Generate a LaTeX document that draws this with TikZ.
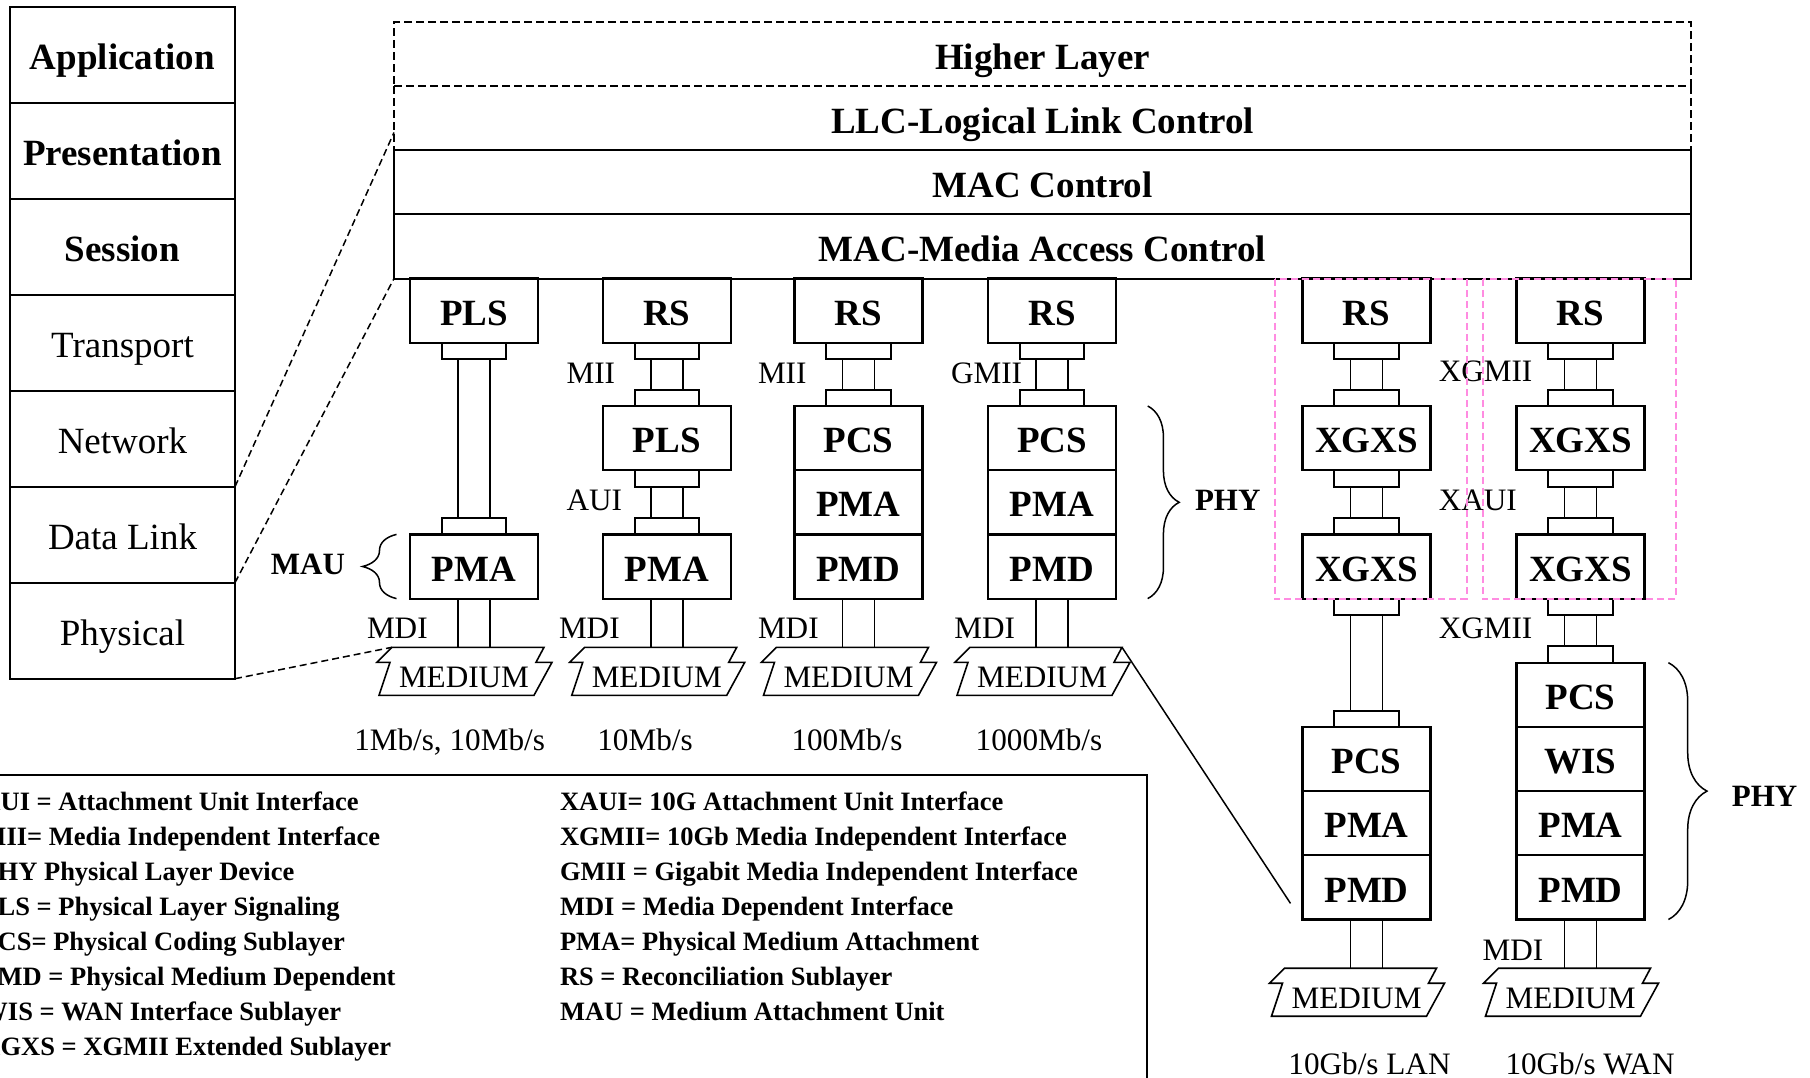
\documentclass[tikz,border=0pt]{standalone}
\usepackage{fontspec}
\setmainfont{Liberation Serif}
\usetikzlibrary{positioning,calc,decorations.pathreplacing}
\definecolor{xgpink}{RGB}{255,140,225}

\begin{document}
\begin{tikzpicture}[
  x=1pt,y=-1pt,
  every node/.style={inner sep=0pt,outer sep=0pt},
  osi/.style={draw,line width=2pt,minimum width=225pt,minimum height=96pt,text height=28.8pt,text depth=0pt,font=\fontsize{37}{40}\selectfont},
  osi top/.style={osi,font=\fontsize{37}{40}\selectfont\bfseries},
  band/.style={draw,line width=2pt,minimum width=1297pt,minimum height=64pt,text height=29.2pt,text depth=0pt,font=\fontsize{37}{40}\selectfont\bfseries},
  open band/.style={band,dash pattern=on 8pt off 4pt},
  sub/.style={draw,line width=2.2pt,minimum width=128pt,minimum height=64.2pt,text height=29.2pt,text depth=0pt,font=\fontsize{37}{40}\selectfont\bfseries},
  stub/.style={draw,line width=2pt,minimum width=64.5pt,minimum height=16.3pt},
  wire/.style={line width=1.5pt},
  medium/.style={text height=15.4pt,text depth=0pt,font=\fontsize{31.2}{34}\selectfont},
  medium line/.style={line width=1.6pt,line join=miter},
  tag/.style={anchor=west,text height=20.4pt,text depth=0pt,font=\fontsize{31.2}{34}\selectfont},
  rate/.style={text height=20.4pt,text depth=0pt,font=\fontsize{31.2}{34}\selectfont},
  side tag/.style={text height=20.4pt,text depth=0pt,font=\fontsize{31}{34}\selectfont\bfseries},
  osi link/.style={line width=1.5pt,dash pattern=on 7pt off 4pt},
  zoom link/.style={line width=1.5pt},
  group/.style={xgpink,line width=2pt,dash pattern=on 7pt off 4pt},
  brace/.style={decorate,line width=1.5pt},
  legend/.style={anchor=base west,font=\fontsize{26.5}{30}\selectfont\bfseries}
]
\useasboundingbox (0,0) rectangle (1810,1078);

% OSI reference model
\node[osi top] (app) at (122.5,54.7) {Application};
\node[osi top,below=0pt of app] (pres) {Presentation};
\node[osi top,below=0pt of pres] (sess) {Session};
\node[osi,below=0pt of sess] (trans) {Transport};
\node[osi,below=0pt of trans] (net) {Network};
\node[osi,below=0pt of net] (dl) {Data Link};
\node[osi,below=0pt of dl] (phys) {Physical};

% upper layers
\node[open band] (higher) at (1042.5,54.5) {Higher Layer};
\node[band,draw=none,below=0pt of higher] (llc) {LLC-Logical Link Control};
\draw[line width=2pt,dash pattern=on 8pt off 4pt] (llc.north west) -- (llc.south west) (llc.north east) -- (llc.south east);
\node[band,below=0pt of llc] (macctl) {MAC Control};
\node[band,below=0pt of macctl] (mac) {MAC-Media Access Control};

% sublayer columns
\node[sub] (pls1) at (474,310.6) {PLS};
\node[sub,below=191.7pt of pls1] (pma1) {PMA};

\node[sub] (rs2) at (666.75,310.6) {RS};
\node[sub,below=63.3pt of rs2] (pls2) {PLS};
\node[sub,below=64.2pt of pls2] (pma2) {PMA};

\node[sub] (rs3) at (858.5,310.6) {RS};
\node[sub,below=63.3pt of rs3] (pcs3) {PCS};
\node[sub,below=0pt of pcs3] (pma3) {PMA};
\node[sub,below=0pt of pma3] (pmd3) {PMD};

\node[sub] (rs4) at (1052,310.6) {RS};
\node[sub,below=63.3pt of rs4] (pcs4) {PCS};
\node[sub,below=0pt of pcs4] (pma4) {PMA};
\node[sub,below=0pt of pma4] (pmd4) {PMD};

\node[sub] (rs5) at (1366.5,310.6) {RS};
\node[sub,below=63.3pt of rs5] (xa5) {XGXS};
\node[sub,below=64.2pt of xa5] (xb5) {XGXS};
\node[sub,below=128.3pt of xb5] (pcs5) {PCS};
\node[sub,below=0pt of pcs5] (pma5) {PMA};
\node[sub,below=0pt of pma5] (pmd5) {PMD};

\node[sub] (rs6) at (1580.5,310.6) {RS};
\node[sub,below=63.3pt of rs6] (xa6) {XGXS};
\node[sub,below=64.2pt of xa6] (xb6) {XGXS};
\node[sub,below=64.1pt of xb6] (pcs6) {PCS};
\node[sub,below=0pt of pcs6] (wis6) {WIS};
\node[sub,below=0pt of wis6] (pma6) {PMA};
\node[sub,below=0pt of pma6] (pmd6) {PMD};

% interface links
\foreach \u/\l in {pls1/pma1,rs2/pls2,pls2/pma2,rs3/pcs3,rs4/pcs4,rs5/xa5,xa5/xb5,xb5/pcs5,rs6/xa6,xa6/xb6,xb6/pcs6}{
  \node[stub,below=0pt of \u] (\u-s) {};
  \node[stub,above=0pt of \l] (\l-t) {};
  \draw[wire] ([xshift=-16pt]\u-s.south) -- ([xshift=-16pt]\l-t.north)
              ([xshift=16pt]\u-s.south) -- ([xshift=16pt]\l-t.north);
}

% media
\node[medium,below=73.5pt of pma1,xshift=-10pt] (med1) {MEDIUM};
\node[medium,below=73.5pt of pma2,xshift=-10pt] (med2) {MEDIUM};
\node[medium,below=73.5pt of pmd3,xshift=-10pt] (med3) {MEDIUM};
\node[medium,below=73.5pt of pmd4,xshift=-10pt] (med4) {MEDIUM};
\node[medium,below=73.5pt of pmd5,xshift=-10pt] (med5) {MEDIUM};
\node[medium,below=73.5pt of pmd6,xshift=-10pt] (med6) {MEDIUM};
\foreach \m/\b in {med1/pma1,med2/pma2,med3/pmd3,med4/pmd4,med5/pmd5,med6/pmd6}{
  \draw[medium line] ([shift={(-72,-32.5)}]\m.center) coordinate (\m-tl)
    -- ([shift={(80,-32.5)}]\m.center) coordinate (\m-tr)
    -- ([shift={(72,-17.5)}]\m.center) -- ([shift={(88,-17.5)}]\m.center)
    -- ([shift={(70,15.5)}]\m.center) -- ([shift={(-85,15.5)}]\m.center)
    -- ([shift={(-74,-17.5)}]\m.center) -- ([shift={(-87,-17.5)}]\m.center) -- cycle;
  \draw[wire] ([xshift=-16pt]\b.south) -- ($(\b.south |- \m-tl)+(-16,0)$)
              ([xshift=16pt]\b.south) -- ($(\b.south |- \m-tl)+(16,0)$);
}

% interface names
\node[tag] (mii2) at (566.6,373) {MII};
\node[tag] (mii3) at (758,373) {MII};
\node[tag] (gmii4) at (951,373) {GMII};
\node[tag] (aui2) at (566.6,500) {AUI};
\node[tag] (mdi1) at (367,628) {MDI};
\node[tag] (mdi2) at (559,628) {MDI};
\node[tag] (mdi3) at (758,628) {MDI};
\node[tag] (mdi4) at (954.4,628) {MDI};
\node[tag] (mdi6) at (1482.7,950) {MDI};
\node[tag] (xgmii1) at (1438.8,371.7) {XGMII};
\node[tag] (xaui) at (1438.8,500) {XAUI};
\node[tag] (xgmii2) at (1438.8,628.3) {XGMII};

% data rates
\node[rate] (rate1) at (449.6,740) {1Mb/s, 10Mb/s};
\node[rate] (rate2) at (645,740) {10Mb/s};
\node[rate] (rate3) at (847,740) {100Mb/s};
\node[rate] (rate4) at (1039,740) {1000Mb/s};
\node[rate] (rate5) at (1369.5,1064) {10Gb/s LAN};
\node[rate] (rate6) at (1590,1064) {10Gb/s WAN};

% braces
\draw[brace,decoration={brace,amplitude=34pt}] ([xshift=-13.5pt]pma1.south west) -- ([xshift=-13.5pt]pma1.north west);
\node[side tag,anchor=east] (mau) at (345,564.7) {MAU};
\draw[brace,decoration={brace,amplitude=31.5pt}] ([xshift=31.7pt]pcs4.north east) -- ([xshift=31.7pt]pmd4.south east);
\node[side tag,anchor=west] (phy1) at (1195,500) {PHY};
\draw[brace,decoration={brace,amplitude=38.6pt}] ([xshift=23.9pt]pcs6.north east) -- ([xshift=23.9pt]pmd6.south east);
\node[side tag,anchor=west] (phy2) at (1731.8,796.7) {PHY};

% OSI to 802.3 mapping
\draw[osi link] (net.south east) -- ([yshift=18pt]llc.south west);
\draw[osi link] (dl.south east) -- (mac.south west);
\draw[osi link] (phys.south east) -- (med1-tl);
\draw[zoom link] (med4-tr) -- ([xshift=-12pt,yshift=-16pt]pmd5.west);

% 10G groups
\draw[group] ([xshift=-28pt]rs5.north west) rectangle ([xshift=36pt]xb5.south east);
\draw[group] ([xshift=-34pt]rs6.north west) rectangle ([xshift=31pt]xb6.south east);

% legend
\node[draw,line width=2pt,minimum width=1170pt,minimum height=330pt,anchor=north east] (legend) at (1146.7,775) {};
\foreach \t [count=\i from 0] in {AUI = Attachment Unit Interface,MII= Media Independent Interface,PHY Physical Layer Device,PLS = Physical Layer Signaling,PCS= Physical Coding Sublayer,PMD = Physical Medium Dependent,WIS = WAN Interface Sublayer,XGXS = XGMII Extended Sublayer}
  \node[legend] (keyl\i) at (-18.5,810.5+35*\i) {\t};
\foreach \t [count=\i from 0] in {XAUI= 10G Attachment Unit Interface,XGMII= 10Gb Media Independent Interface,GMII = Gigabit Media Independent Interface,MDI = Media Dependent Interface,PMA= Physical Medium Attachment,RS = Reconciliation Sublayer,MAU = Medium Attachment Unit}
  \node[legend] (keyr\i) at (560,810.5+35*\i) {\t};
\end{tikzpicture}
\end{document}
